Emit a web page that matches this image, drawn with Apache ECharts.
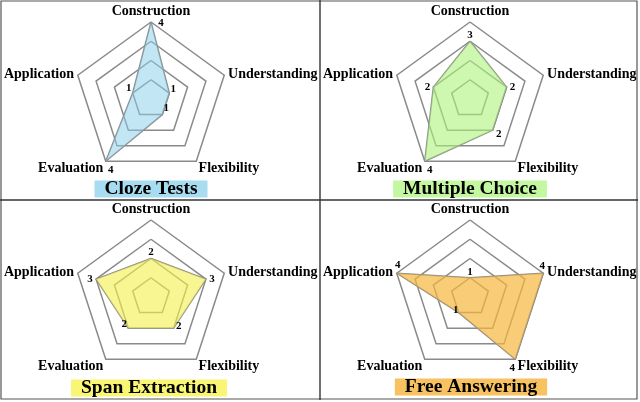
<!DOCTYPE html>
<html>
<head>
<meta charset="utf-8">
<script src="https://cdn.jsdelivr.net/npm/echarts@6/dist/echarts.min.js"></script>
<style>
html,body{margin:0;padding:0;background:#fff;}
#chart{width:640px;height:402px;}
</style>
</head>
<body>
<div id="chart"></div>
<script>
// ---- data (indicator order as ECharts draws it: top, then counter-clockwise) ----
const indicators = ['Construction', 'Application', 'Evaluation', 'Flexibility', 'Understanding'];
const maxValue = 4;
const titles = ['Cloze Tests', 'Multiple Choice', 'Span Extraction', 'Free Answering'];
const clozeValues = [4, 1, 4, 1, 1];
const multipleChoiceValues = [3, 2, 4, 2, 2];
const spanExtractionValues = [2, 3, 2, 2, 3];
const freeAnsweringValues = [1, 4, 1, 4, 4];

// ---- layout / style ----
const seriesValues = [clozeValues, multipleChoiceValues, spanExtractionValues, freeAnsweringValues];
const panels = [
  { cx: 151, cy: 99,  ty: 189, tx: 151, area: 'rgba(135,206,235,0.5)', tbg: '#a8dcf0',
    off: [[10, 1], [-4, -5], [5, 9], [4, -6], [4, -4]] },
  { cx: 470, cy: 99,  ty: 189, tx: 470, area: 'rgba(173,242,122,0.6)', tbg: '#c4f8a0',
    off: [[0, -6], [-6, 0], [5, 9], [6, 4], [6, 0]] },
  { cx: 151, cy: 297, ty: 388, tx: 149, area: 'rgba(243,239,80,0.62)', tbg: '#f8f674',
    off: [[0, -6], [-6, 0], [-4, -4], [5, -2], [6, 0]] },
  { cx: 470, cy: 297, ty: 387, tx: 471, area: 'rgba(246,182,62,0.7)', tbg: '#f8c260',
    off: [[0, -6], [1, -8], [-3, -2], [-3, 9], [-1, -7]] }
];
const R = 77;
const serif = '"Liberation Serif", "Times New Roman", serif';
const lowNames = { Evaluation: true, Flexibility: true };
const nameStyle = { color: '#000', fontFamily: serif, fontWeight: 'bold', fontSize: 14 };

const radars = panels.map(p => ({
  center: [p.cx, p.cy],
  radius: R,
  shape: 'polygon',
  splitNumber: 4,
  startAngle: 90,
  indicator: indicators.map(n => ({ name: n, min: 0, max: maxValue })),
  nameGap: 4,
  axisName: Object.assign({}, nameStyle, {
    formatter: n => (lowNames[n] ? '{lo|' + n + '}' : '{n|' + n + '}'),
    rich: {
      n: Object.assign({}, nameStyle),
      lo: Object.assign({}, nameStyle, { padding: [7, 0, 0, 0] })
    }
  }),
  axisLine: { show: false },
  axisTick: { show: false },
  axisLabel: { show: false },
  splitArea: { show: false },
  splitLine: { lineStyle: { color: '#8a8a8a', width: 1.5 } }
}));

const series = [];
panels.forEach((p, i) => {
  series.push({
    type: 'radar',
    radarIndex: i,
    symbol: 'none',
    silent: true,
    z: 2,
    lineStyle: { color: '#8c8c8c', width: 1.5 },
    areaStyle: { color: p.area, opacity: 1 },
    data: [{ value: seriesValues[i] }]
  });
  series.push({
    type: 'radar',
    radarIndex: i,
    symbol: 'circle',
    symbolSize: 1,
    silent: true,
    z: 3,
    itemStyle: { color: 'transparent' },
    lineStyle: { opacity: 0 },
    label: {
      show: true,
      color: '#000',
      fontFamily: serif,
      fontWeight: 'bold',
      fontSize: 11,
      align: 'center',
      verticalAlign: 'middle',
      formatter: prm => (prm.dimensionIndex === prm.data.dim ? String(prm.value) : '')
    },
    data: indicators.map((n, d) => ({
      value: seriesValues[i],
      dim: d,
      label: { position: [p.off[d][0] + 0.5, p.off[d][1] + 0.5] }
    }))
  });
});

const graphics = [
  { type: 'rect', shape: { x: 1, y: 1, width: 636, height: 398 }, style: { fill: 'none', stroke: '#555', lineWidth: 1.2 }, z: 10 },
  { type: 'line', shape: { x1: 320, y1: 0, x2: 320, y2: 400 }, style: { stroke: '#333', lineWidth: 1.4 }, z: 10 },
  { type: 'line', shape: { x1: 0, y1: 200, x2: 638, y2: 200 }, style: { stroke: '#333', lineWidth: 1.4 }, z: 10 }
];
panels.forEach((p, i) => {
  graphics.push({
    type: 'text',
    x: p.tx, y: p.ty, z: 10,
    style: {
      text: titles[i],
      font: 'bold 19.5px ' + serif,
      fill: '#000',
      align: 'center',
      verticalAlign: 'middle',
      lineHeight: 15,
      backgroundColor: p.tbg,
      padding: [1, 10, 1, 10]
    }
  });
});

const chart = echarts.init(document.getElementById('chart'), null, { renderer: 'canvas' });
chart.setOption({
  animation: false,
  backgroundColor: '#fff',
  radar: radars,
  series: series,
  graphic: graphics
});
</script>
</body>
</html>
